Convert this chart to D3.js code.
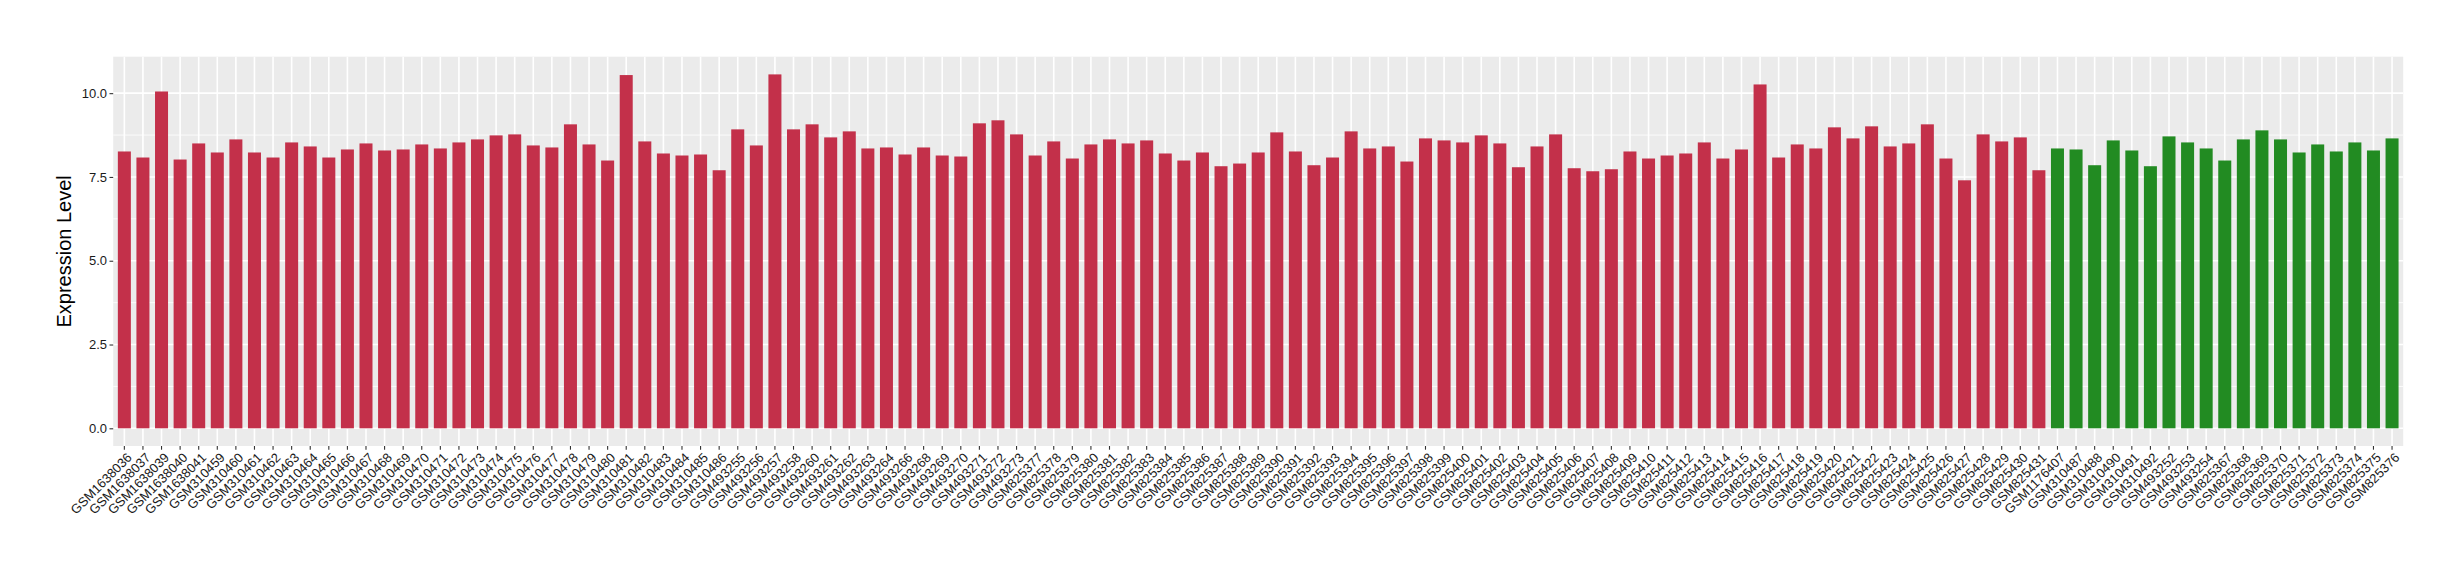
<!DOCTYPE html>
<html>
<head>
<meta charset="utf-8">
<script src="https://cdn.jsdelivr.net/npm/d3@7"></script>
<style>
  html, body { margin: 0; padding: 0; background: #ffffff; }
  svg { display: block; }
</style>
</head>
<body>
<svg id="chart" width="2460" height="580"></svg>
<script>
// ---------- data ----------
const redSamples = [
  "GSM1638036","GSM1638037","GSM1638039","GSM1638040","GSM1638041",
  "GSM310459","GSM310460","GSM310461","GSM310462","GSM310463","GSM310464","GSM310465",
  "GSM310466","GSM310467","GSM310468","GSM310469","GSM310470","GSM310471","GSM310472",
  "GSM310473","GSM310474","GSM310475","GSM310476","GSM310477","GSM310478","GSM310479",
  "GSM310480","GSM310481","GSM310482","GSM310483","GSM310484","GSM310485","GSM310486",
  "GSM493255","GSM493256","GSM493257","GSM493258","GSM493260","GSM493261","GSM493262",
  "GSM493263","GSM493264","GSM493266","GSM493268","GSM493269","GSM493270","GSM493271",
  "GSM493272","GSM493273",
  "GSM825377","GSM825378","GSM825379","GSM825380","GSM825381","GSM825382","GSM825383",
  "GSM825384","GSM825385","GSM825386","GSM825387","GSM825388","GSM825389","GSM825390",
  "GSM825391","GSM825392","GSM825393","GSM825394","GSM825395","GSM825396","GSM825397",
  "GSM825398","GSM825399","GSM825400","GSM825401","GSM825402","GSM825403","GSM825404",
  "GSM825405","GSM825406","GSM825407","GSM825408","GSM825409","GSM825410","GSM825411",
  "GSM825412","GSM825413","GSM825414","GSM825415","GSM825416","GSM825417","GSM825418",
  "GSM825419","GSM825420","GSM825421","GSM825422","GSM825423","GSM825424","GSM825425",
  "GSM825426","GSM825427","GSM825428","GSM825429","GSM825430","GSM825431"
];
const redValues = [
  8.26, 8.08, 10.05, 8.02, 8.50,
  8.23, 8.62, 8.23, 8.08, 8.53, 8.41, 8.08,
  8.32, 8.50, 8.29, 8.32, 8.47, 8.35, 8.53,
  8.62, 8.74, 8.77, 8.44, 8.38, 9.07, 8.47,
  7.99, 10.54, 8.56, 8.20, 8.14, 8.17, 7.70,
  8.92, 8.44, 10.56, 8.92, 9.07, 8.68, 8.86,
  8.35, 8.38, 8.17, 8.38, 8.14, 8.11, 9.10,
  9.19, 8.77,
  8.14, 8.56, 8.05, 8.47, 8.62, 8.50, 8.59,
  8.20, 7.99, 8.23, 7.82, 7.90, 8.23, 8.83,
  8.26, 7.85, 8.08, 8.86, 8.35, 8.41, 7.96,
  8.65, 8.59, 8.53, 8.74, 8.50, 7.79, 8.41,
  8.77, 7.76, 7.67, 7.73, 8.26, 8.05, 8.14,
  8.20, 8.53, 8.05, 8.32, 10.26, 8.08, 8.47,
  8.35, 8.98, 8.65, 9.01, 8.41, 8.50, 9.07,
  8.05, 7.40, 8.77, 8.56, 8.68, 7.70
];
const greenSamples = [
  "GSM1176407","GSM310487","GSM310488","GSM310490","GSM310491","GSM310492",
  "GSM493252","GSM493253","GSM493254",
  "GSM825367","GSM825368","GSM825369","GSM825370","GSM825371","GSM825372",
  "GSM825373","GSM825374","GSM825375","GSM825376"
];
const greenValues = [
  8.35, 8.32, 7.85, 8.59, 8.29, 7.82,
  8.71, 8.53, 8.35,
  7.99, 8.62, 8.89, 8.62, 8.23, 8.47,
  8.26, 8.53, 8.29, 8.65
];
const yTicks = [0, 2.5, 5, 7.5, 10];
const yMinor = [1.25, 3.75, 6.25, 8.75];
const yTitle = "Expression Level";
const groupColors = { red: "#C3304A", green: "#228B22" };

// ---------- build rows ----------
const rows = redSamples.map((s, i) => ({ sample: s, value: redValues[i], group: "red" }))
  .concat(greenSamples.map((s, i) => ({ sample: s, value: greenValues[i], group: "green" })));

// ---------- layout ----------
const panel = { left: 113.2, right: 2403.2, top: 56.7, bottom: 446 };
const font = "'Liberation Sans', Arial, Helvetica, sans-serif";

const svg = d3.select("#chart");
svg.append("rect").attr("width", 2460).attr("height", 580).attr("fill", "#ffffff");

const x = d3.scaleBand()
  .domain(rows.map(d => d.sample))
  .range([panel.left, panel.right])
  .paddingInner(0.3)
  .paddingOuter(0.25);

const maxV = d3.max(rows, d => d.value);
const y = d3.scaleLinear()
  .domain([-0.05 * maxV, maxV * 1.05])
  .range([panel.bottom, panel.top]);

// panel background
svg.append("rect")
  .attr("x", panel.left).attr("y", panel.top)
  .attr("width", panel.right - panel.left)
  .attr("height", panel.bottom - panel.top)
  .attr("fill", "#EBEBEB");

// minor grid
svg.append("g").selectAll("line").data(yMinor).join("line")
  .attr("x1", panel.left).attr("x2", panel.right)
  .attr("y1", d => y(d)).attr("y2", d => y(d))
  .attr("stroke", "#ffffff").attr("stroke-width", 0.8);

// major grid horizontal
svg.append("g").selectAll("line").data(yTicks).join("line")
  .attr("x1", panel.left).attr("x2", panel.right)
  .attr("y1", d => y(d)).attr("y2", d => y(d))
  .attr("stroke", "#ffffff").attr("stroke-width", 1.6);

// major grid vertical
svg.append("g").selectAll("line").data(rows).join("line")
  .attr("x1", d => x(d.sample) + x.bandwidth() / 2)
  .attr("x2", d => x(d.sample) + x.bandwidth() / 2)
  .attr("y1", panel.top).attr("y2", panel.bottom)
  .attr("stroke", "#ffffff").attr("stroke-width", 1.6);

// bars
svg.append("g").selectAll("rect").data(rows).join("rect")
  .attr("x", d => x(d.sample))
  .attr("width", x.bandwidth())
  .attr("y", d => y(d.value))
  .attr("height", d => y(0) - y(d.value))
  .attr("fill", d => groupColors[d.group]);

// y axis
const yAxis = d3.axisLeft(y).tickValues(yTicks).tickFormat(d3.format(".1f")).tickSize(3.7).tickPadding(2.5);
const gy = svg.append("g").attr("transform", `translate(${panel.left},0)`).call(yAxis);
gy.select(".domain").remove();
gy.selectAll(".tick line").attr("stroke", "#333333").attr("stroke-width", 1.1);
gy.selectAll(".tick text").attr("font-family", font).attr("font-size", 13).attr("fill", "#1a1a1a");

// x axis
const xAxis = d3.axisBottom(x).tickSize(3.7).tickPadding(2);
const gx = svg.append("g").attr("transform", `translate(0,${panel.bottom})`).call(xAxis);
gx.select(".domain").remove();
gx.selectAll(".tick line").attr("stroke", "#333333").attr("stroke-width", 1.1);
gx.selectAll(".tick text")
  .attr("font-family", font).attr("font-size", 13).attr("fill", "#1a1a1a")
  .attr("text-anchor", "end")
  .attr("y", 0).attr("dy", 0)
  .attr("transform", "translate(2,6) rotate(-45) translate(0,9)");

// y title
svg.append("text")
  .attr("transform", `translate(${66},${(panel.top + panel.bottom) / 2}) rotate(-90)`)
  .attr("text-anchor", "middle")
  .attr("dominant-baseline", "middle")
  .attr("font-family", font).attr("font-size", 20).attr("fill", "#000000")
  .text(yTitle);
</script>
</body>
</html>
